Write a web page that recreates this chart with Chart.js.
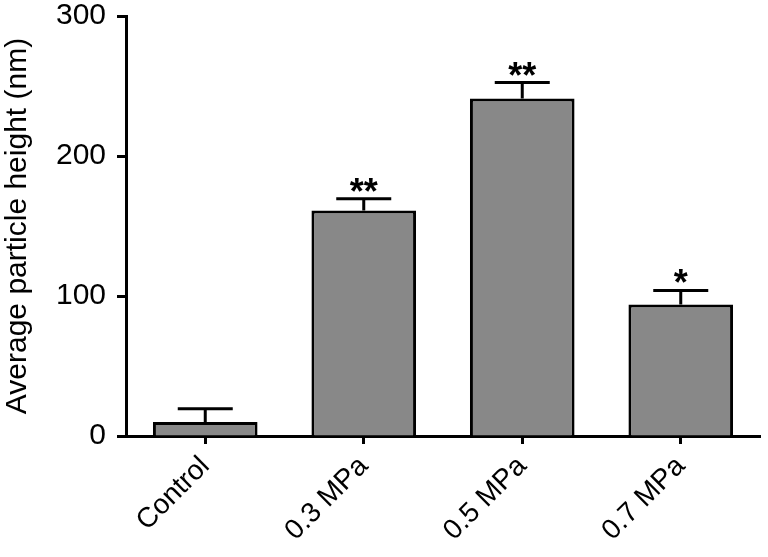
<!DOCTYPE html>
<html lang="en">
<head>
    <meta charset="UTF-8">
    <title>Average particle height</title>
    <script src="https://cdn.jsdelivr.net/npm/chart.js"></script>
    <style>
        body { margin: 0; background: #fff; }
        #wrap { width: 768px; height: 557px; }
    </style>
</head>
<body>
    <div id="wrap"><canvas id="barChart"></canvas></div>
    <script>
        // data
        var categorias = ['Control', '0.3 MPa', '0.5 MPa', '0.7 MPa'];
        var valores = [10, 161, 241, 94];
        var erros = [9.5, 8.5, 11.5, 10];
        var marcas = ['', '**', '**', '*'];
        var ticksY = [0, 100, 200, 300];

        var fonte = "'Liberation Sans', Arial, sans-serif";

        // error bars (upward only) and significance stars
        var errorBars = {
            id: 'errorBars',
            afterDatasetsDraw: function (chart) {
                var ctx = chart.ctx;
                var y = chart.scales.y;
                var meta = chart.getDatasetMeta(0);
                ctx.save();
                ctx.strokeStyle = '#000';
                ctx.lineWidth = 3;
                meta.data.forEach(function (bar, i) {
                    var x = bar.x;
                    var yTop = y.getPixelForValue(valores[i]);
                    var yErr = y.getPixelForValue(valores[i] + erros[i]);
                    ctx.beginPath();
                    ctx.moveTo(x, yTop);
                    ctx.lineTo(x, yErr);
                    ctx.moveTo(x - 27.5, yErr);
                    ctx.lineTo(x + 27.5, yErr);
                    ctx.stroke();
                    if (marcas[i]) {
                        ctx.fillStyle = '#000';
                        ctx.font = 'bold 36px ' + fonte;
                        ctx.textAlign = 'center';
                        ctx.textBaseline = 'alphabetic';
                        ctx.fillText(marcas[i], x, yErr + 5);
                    }
                });
                ctx.restore();
            }
        };

        var barChart = new Chart(document.getElementById('barChart'), {
            type: 'bar',
            data: {
                labels: categorias,
                datasets: [{
                    data: valores,
                    backgroundColor: '#888888',
                    borderColor: '#000',
                    borderWidth: 3,
                    barPercentage: 0.66,
                    categoryPercentage: 1
                }]
            },
            options: {
                responsive: true,
                maintainAspectRatio: false,
                animation: false,
                layout: { padding: { top: 16, right: 8, left: 0, bottom: 0 } },
                plugins: {
                    legend: { display: false },
                    tooltip: { enabled: false }
                },
                scales: {
                    x: {
                        offset: true,
                        grid: {
                            offset: false,
                            drawOnChartArea: false,
                            tickLength: 8,
                            tickWidth: 3,
                            tickColor: '#000'
                        },
                        border: { color: '#000', width: 3 },
                        ticks: {
                            color: '#000',
                            font: { family: fonte, size: 28 },
                            minRotation: 45,
                            maxRotation: 45,
                            padding: 6
                        },
                        afterFit: function (scale) {
                            scale.height = 121;
                            scale.paddingLeft = 0;
                            scale.paddingRight = 0;
                        }
                    },
                    y: {
                        min: 0,
                        max: 300,
                        afterBuildTicks: function (scale) {
                            scale.ticks = ticksY.map(function (v) { return { value: v }; });
                        },
                        grid: {
                            drawOnChartArea: false,
                            tickLength: 9,
                            tickWidth: 3,
                            tickColor: '#000'
                        },
                        border: { color: '#000', width: 3 },
                        ticks: {
                            color: '#000',
                            font: { family: fonte, size: 30, lineHeight: 1 },
                            padding: 11
                        },
                        title: {
                            display: true,
                            text: 'Average particle height (nm)',
                            color: '#000',
                            font: { family: fonte, size: 30 },
                            padding: { top: 0, bottom: 2 }
                        },
                        afterFit: function (scale) {
                            scale.width = 126;
                            scale.paddingTop = 0;
                            scale.paddingBottom = 0;
                        }
                    }
                }
            },
            plugins: [errorBars]
        });
    </script>
</body>
</html>
